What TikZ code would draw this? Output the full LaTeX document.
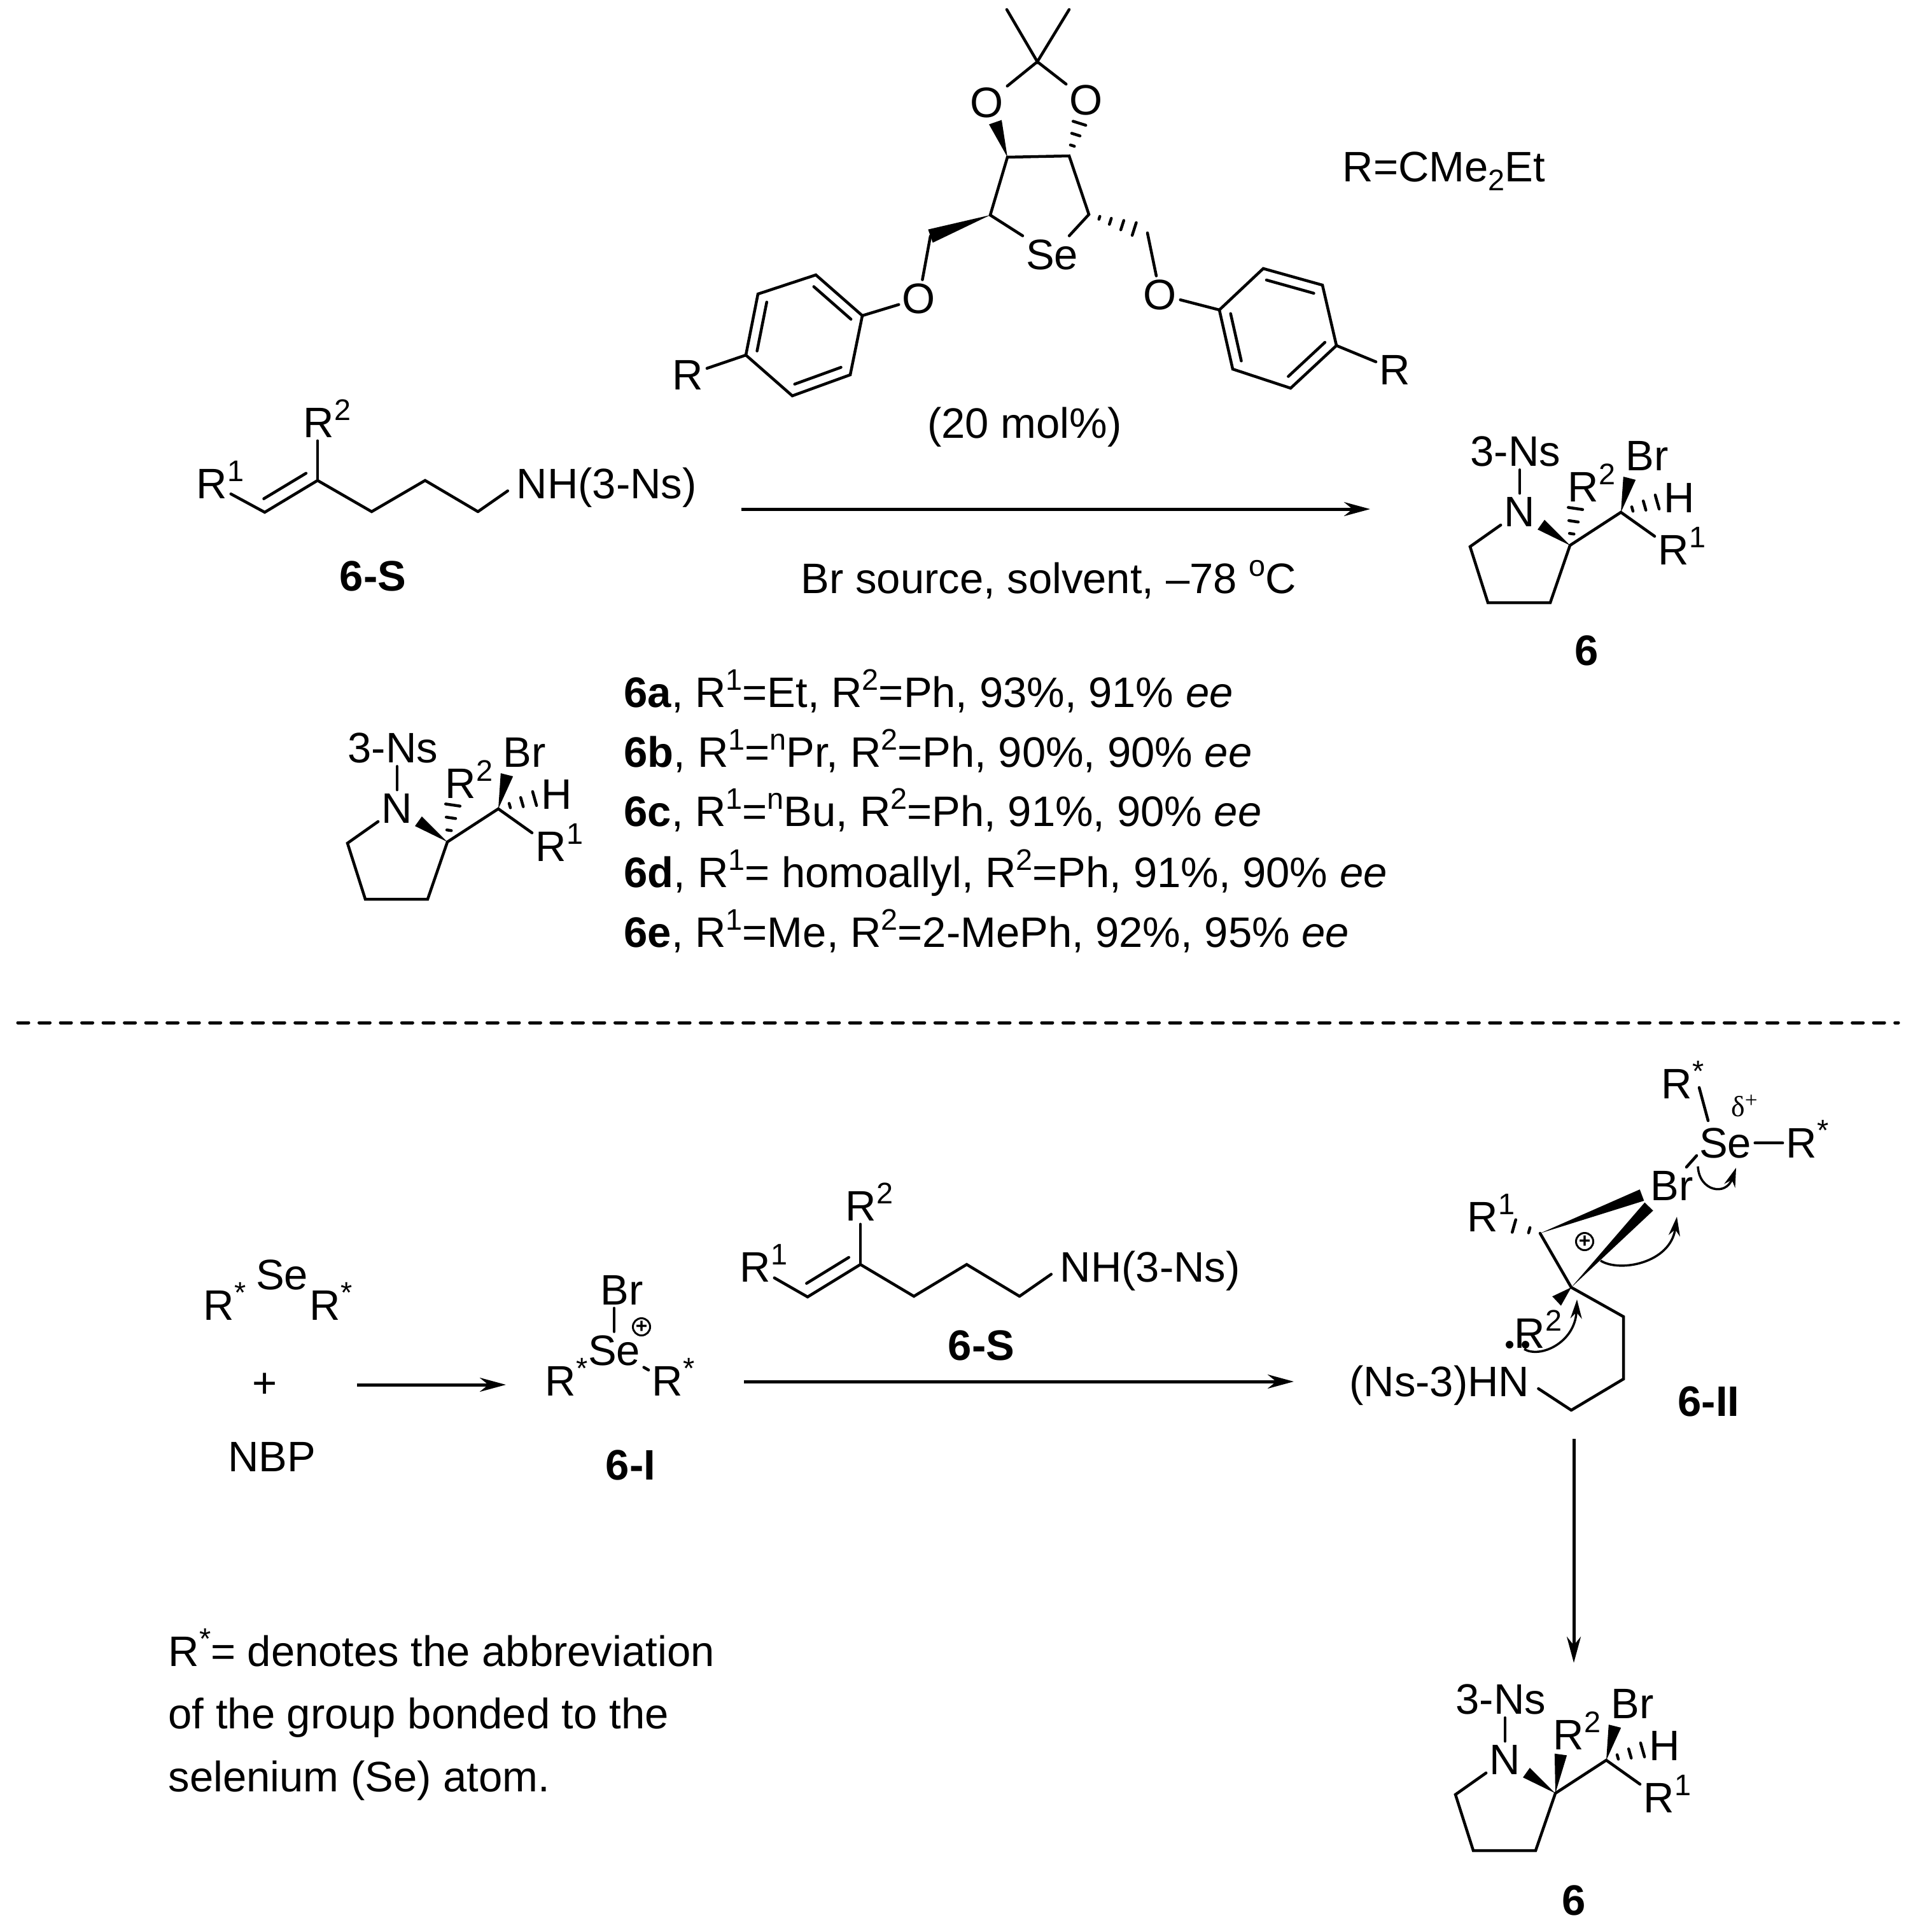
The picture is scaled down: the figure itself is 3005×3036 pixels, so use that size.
\documentclass[tikz,border=0pt]{standalone}
\usepackage{fontspec}
\setmainfont{Liberation Sans}
\newfontfamily\deltafont{Liberation Serif}
\usetikzlibrary{calc,arrows.meta}

\newcommand{\mainsize}{\fontsize{19.05}{22}\selectfont}
\newcommand{\upidx}[1]{\raisebox{7.6pt}[0pt][0pt]{\fontsize{13.3}{13}\selectfont #1}}
\newcommand{\Rup}[1]{R\rlap{\upidx{#1}}}

% bonds with a thin and a thick end
\newcommand{\wedgebond}[3]{\fill (#1) -- ($(#2)!#3!90:(#1)$) -- ($(#2)!#3!-90:(#1)$) -- cycle;}
\newcommand{\hashbond}[4][0.3,0.62,0.95]{
    \foreach \hpos in {#1} {
        \coordinate (hashp) at ($(#2)!\hpos!(#3)$);
        \draw[bond] ($(hashp)!\hpos*#4!90:(#3)$) -- ($(hashp)!\hpos*#4!-90:(#3)$);
    }
}
\newcommand{\innerbond}[3]{\draw[bond] ($(#1)!0.1!(#2)!#3!90:(#2)$) -- ($(#2)!0.1!(#1)!#3!-90:(#1)$);}

\tikzset{
    bond/.style={line width=0.045cm,line cap=round},
    rxn/.style={line width=0.05cm,-{Stealth[length=0.41cm,width=0.22cm]}},
    curly/.style={line width=0.035cm,-{Stealth[length=0.3cm,width=0.18cm]}},
    atom/.style={font=\mainsize,inner sep=0.05cm,anchor=base},
    atoml/.style={atom,anchor=base west},
    cmpd/.style={font=\mainsize\bfseries,inner sep=0pt,anchor=base},
    txt/.style={font=\mainsize,inner sep=0pt,anchor=base west},
    lonepair/.style={circle,fill,inner sep=0pt,minimum size=0.12cm},
    plusring/.style={circle,draw,line width=0.03cm,inner sep=0pt,minimum size=0.27cm,font=\fontsize{9}{9}\selectfont\bfseries},
    prolidine/.pic={
        \coordinate (C) at (0,0);
        \coordinate (Cb) at (80,-52);
        \coordinate (rA) at (-157,2);
        \coordinate (rB) at (-129,90);
        \coordinate (rC) at (-31,90);
        \coordinate (wN) at (-45.5,-32.5);
        \coordinate (wBr) at (93.5,-105.5);
        \coordinate (hH) at (140,-69);
        \coordinate (Q) at (9,-61);
        \node[atom] (N) at (-79,-30) {N};
        \node[atoml] (Ns) at (-162,-125) {3-Ns};
        \node[atoml] (Rtwo) at (-9,-69) {\Rup{2}};
        \node[atoml] (Br) at (82,-118) {Br};
        \node[atom] (H) at (172,-52) {H};
        \node[atoml] (Rone) at (133,30) {\Rup{1}};
        \draw[bond] (N) -- (rA) -- (rB) -- (rC) -- (C) -- (Cb) -- (Rone);
        \draw[bond] (N |- Ns.south) -- (N);
        \wedgebond{C}{wN}{0.093cm}
        \wedgebond{Cb}{wBr}{0.1cm}
        \hashbond{Cb}{hH}{0.12cm}
    }
}

\begin{document}
\begin{tikzpicture}[x=0.01cm,y=-0.01cm]
    \useasboundingbox (0,0) rectangle (3005,3036);

    % selenide catalyst
    \coordinate (cq) at (1630,97);
    \coordinate (meA) at (1582,15);
    \coordinate (meB) at (1680,15);
    \coordinate (cA) at (1556,338);
    \coordinate (cB) at (1583,247);
    \coordinate (cC) at (1680,245);
    \coordinate (cD) at (1711,337);
    \coordinate (wO) at (1564,192);
    \coordinate (hO) at (1697,191);
    \coordinate (chL) at (1462,371);
    \coordinate (chR) at (1803,366);
    \coordinate (hR) at (1786,361);
    \coordinate (la) at (1355,496);
    \coordinate (lb) at (1282,432);
    \coordinate (lc) at (1191,462);
    \coordinate (ld) at (1172,558);
    \coordinate (le) at (1245,622);
    \coordinate (lf) at (1336,589);
    \coordinate (ra) at (1916,487);
    \coordinate (rb) at (1937,580);
    \coordinate (rc) at (2028,610);
    \coordinate (rd) at (2100,543);
    \coordinate (re) at (2078,448);
    \coordinate (rf) at (1985,422);
    \node[atom] (oA) at (1551,184) {O};
    \node[atom] (oB) at (1707,180) {O};
    \node[atom] (se) at (1653,423) {Se};
    \node[atom] (oL) at (1444,492) {O};
    \node[atom] (oR) at (1823,486) {O};
    \node[atom] (rL) at (1081,612) {R};
    \node[atom] (rR) at (2192,604) {R};
    \draw[bond] (meA) -- (cq) -- (meB);
    \draw[bond] (oA) -- (cq) -- (oB);
    \draw[bond] (se) -- (cA) -- (cB) -- (cC) -- (cD) -- (se);
    \wedgebond{cB}{wO}{0.105cm}
    \hashbond{cC}{hO}{0.11cm}
    \wedgebond{cA}{chL}{0.11cm}
    \hashbond[0.22,0.45,0.7,0.95]{cD}{hR}{0.11cm}
    \draw[bond] (chL) -- (oL) -- (la) -- (lb) -- (lc) -- (ld) -- (le) -- (lf) -- (la);
    \draw[bond] (ld) -- (rL);
    \draw[bond] (chR) -- (oR) -- (ra) -- (rb) -- (rc) -- (rd) -- (re) -- (rf) -- (ra);
    \draw[bond] (rd) -- (rR);
    \innerbond{la}{lb}{0.16cm}
    \innerbond{lc}{ld}{0.16cm}
    \innerbond{le}{lf}{0.16cm}
    \innerbond{ra}{rb}{0.16cm}
    \innerbond{rc}{rd}{0.16cm}
    \innerbond{re}{rf}{0.16cm}
    \node[atom] (mol) at (1610,688) {(20 mol\%)};
    \node[txt] (rdef) at (2109,285) {R=CMe\raisebox{-4pt}{\fontsize{13.3}{13}\selectfont 2}Et};

    % substrate, top
    \coordinate (sA) at (416,805);
    \coordinate (sB) at (499,755);
    \coordinate (sC) at (584,804);
    \coordinate (sD) at (668,755);
    \coordinate (sE) at (751,804);
    \node[atoml] (sRone) at (303,783) {\Rup{1}};
    \node[atoml] (sRtwo) at (471,687) {\Rup{2}};
    \node[atoml] (sNH) at (806,783) {NH(3-Ns)};
    \draw[bond] (sRone) -- (sA) -- (sB) -- (sC) -- (sD) -- (sE);
    \draw[bond,shorten >=0.1cm] (sE) -- (sNH.west);
    \draw[bond] (sB) -- (sB |- sRtwo.south);
    \innerbond{sA}{sB}{0.19cm}
    \node[cmpd] (lblS) at (586,928) {6-S};

    \coordinate (arA) at (1165,800);
    \coordinate (arB) at (2153,800);
    \draw[rxn] (arA) -- (arB);
    \node[txt] (cond) at (1258,932) {Br source, solvent, –78 \upidx{o}C};

    \pic (pA) at (2467,857) {prolidine};
    \hashbond{pAC}{pAQ}{0.12cm}
    \node[cmpd] (lblA) at (2493,1045) {6};

    \pic (pB) at (703,1323) {prolidine};
    \hashbond{pBC}{pBQ}{0.12cm}

    % scope of the reaction
    \node[txt] (ya) at (980,1111) {\textbf{6a}, R\upidx{1}=Et, R\upidx{2}=Ph, 93\%, 91\% \textit{ee}};
    \node[txt] (yb) at (980,1205) {\textbf{6b}, R\upidx{1}=\upidx{n}Pr, R\upidx{2}=Ph, 90\%, 90\% \textit{ee}};
    \node[txt] (yc) at (980,1298) {\textbf{6c}, R\upidx{1}=\upidx{n}Bu, R\upidx{2}=Ph, 91\%, 90\% \textit{ee}};
    \node[txt] (yd) at (980,1394) {\textbf{6d}, R\upidx{1}= homoallyl, R\upidx{2}=Ph, 91\%, 90\% \textit{ee}};
    \node[txt] (ye) at (980,1488) {\textbf{6e}, R\upidx{1}=Me, R\upidx{2}=2-MePh, 92\%, 95\% \textit{ee}};

    \coordinate (dashA) at (28,1607);
    \coordinate (dashB) at (2983,1607);
    \draw[line width=0.05cm,line cap=round,dash pattern=on 0.17cm off 0.165cm] (dashA) -- (dashB);

    % mechanism
    \node[atoml] (aRa) at (314,2074) {R\rlap{\upidx{*}}};
    \node[atom] (aSe) at (443,2026) {Se};
    \node[atoml] (aRb) at (481,2074) {R\rlap{\upidx{*}}};
    \node[atom] (plus) at (416,2196) {+};
    \node[atom] (nbp) at (427,2312) {NBP};
    \coordinate (arC) at (561,2176);
    \coordinate (arD) at (795,2176);
    \draw[rxn] (arC) -- (arD);

    \node[atom] (iBr) at (977,2050) {Br};
    \node[atom] (iSe) at (965,2145) {Se};
    \node[atom] (iRa) at (881,2193) {R\rlap{\upidx{*}}};
    \node[atom] (iRb) at (1049,2193) {R\rlap{\upidx{*}}};
    \node[plusring] (iPlus) at (1008,2085) {+};
    \draw[bond] (iBr.south -| iSe) -- (iSe);
    \draw[bond] (iSe) -- (iRb);
    \node[cmpd] (lblI) at (991,2325) {6-I};

    \coordinate (tA) at (1269,2038);
    \coordinate (tB) at (1352,1987);
    \coordinate (tC) at (1436,2037);
    \coordinate (tD) at (1519,1987);
    \coordinate (tE) at (1602,2037);
    \node[atoml] (tRone) at (1157,2014) {\Rup{1}};
    \node[atoml] (tRtwo) at (1323,1918) {\Rup{2}};
    \node[atoml] (tNH) at (1660,2014) {NH(3-Ns)};
    \draw[bond] (tRone) -- (tA) -- (tB) -- (tC) -- (tD) -- (tE);
    \draw[bond,shorten >=0.1cm] (tE) -- (tNH.west);
    \draw[bond] (tB) -- (tB |- tRtwo.south);
    \innerbond{tA}{tB}{0.19cm}
    \node[cmpd] (lblT) at (1542,2137) {6-S};

    \coordinate (arE) at (1169,2171);
    \coordinate (arF) at (2033,2171);
    \draw[rxn] (arE) -- (arF);

    % bromonium 6-II
    \coordinate (uA) at (2420,1938);
    \coordinate (uB) at (2469,2023);
    \coordinate (uC) at (2551,2069);
    \coordinate (uD) at (2551,2167);
    \coordinate (uE) at (2469,2216);
    \coordinate (wA) at (2580,1878);
    \coordinate (wB) at (2591,1896);
    \coordinate (wC) at (2446,2044.5);
    \coordinate (hU) at (2370,1924);
    \coordinate (seA) at (2670,1709);
    \coordinate (seB) at (2684,1761);
    \coordinate (brA) at (2650,1834);
    \coordinate (brB) at (2666,1816);
    \node[atom] (uRt) at (2635,1726) {R\rlap{\upidx{*}}};
    \node[atom] (uSe) at (2711,1819) {Se};
    \node[atom] (uRr) at (2831,1819) {R\rlap{\upidx{*}}};
    \node[atom] (uBr) at (2627,1886) {Br};
    \node[atom] (uRone) at (2330,1935) {\Rup{1}};
    \node[atoml] (uRtwo) at (2374,2118) {\Rup{2}};
    \node[atom,anchor=base east] (uNH) at (2409,2194) {(Ns-3)HN};
    \node[plusring] (uPlus) at (2490,1951) {+};
    \node[inner sep=0pt] (uDelta) at (2741,1738) {\deltafont\fontsize{13}{13}\selectfont δ\raisebox{4pt}{\fontsize{10}{10}\selectfont +}};
    \node[lonepair] (lpA) at (2372,2113) {};
    \node[lonepair] (lpB) at (2397,2113) {};
    \draw[bond] (seA) -- (seB);
    \draw[bond] (brA) -- (brB);
    \draw[bond] (uSe) -- (uRr);
    \draw[bond] (uA) -- (uB) -- (uC) -- (uD) -- (uE);
    \draw[bond,shorten >=0.1cm] (uE) -- (uNH.east);
    \wedgebond{uA}{wA}{0.095cm}
    \wedgebond{uB}{wB}{0.092cm}
    \wedgebond{uB}{wC}{0.1cm}
    \hashbond[0.34,0.82]{uA}{hU}{0.125cm}
    \coordinate (cvA) at (2515,1981);
    \coordinate (cvB) at (2635,1912);
    \draw[curly] (cvA) .. controls (2545,2000) and (2625,1985) .. (cvB);
    \coordinate (cvC) at (2668,1833);
    \coordinate (cvD) at (2728,1835);
    \draw[curly] (cvC) .. controls (2670,1872) and (2712,1880) .. (cvD);
    \coordinate (cvE) at (2395,2120);
    \coordinate (cvF) at (2478,2042);
    \draw[curly] (cvE) .. controls (2420,2135) and (2475,2110) .. (cvF);
    \node[cmpd] (lblU) at (2685,2225) {6-II};

    \coordinate (arG) at (2473,2261);
    \coordinate (arH) at (2473,2613);
    \draw[rxn] (arG) -- (arH);

    \pic (pC) at (2444,2818) {prolidine};
    \coordinate (wQ) at (2452.5,2757);
    \wedgebond{pCC}{wQ}{0.097cm}
    \node[cmpd] (lblC) at (2473,3009) {6};

    % note
    \node[txt] (noteA) at (264,2618) {R\upidx{*}= denotes the abbreviation};
    \node[txt] (noteB) at (264,2716) {of the group bonded to the};
    \node[txt] (noteC) at (264,2815) {selenium (Se) atom.};
\end{tikzpicture}
\end{document}
